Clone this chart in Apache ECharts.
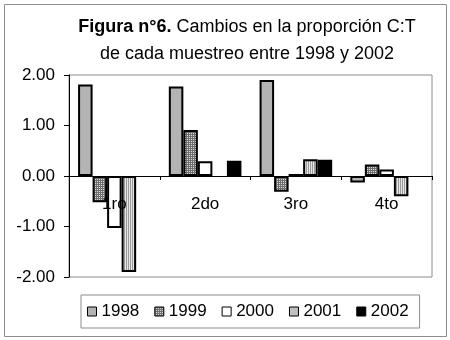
<!DOCTYPE html>
<html>
<head>
<meta charset="utf-8">
<script src="https://cdn.jsdelivr.net/npm/echarts@6/dist/echarts.min.js"></script>
<style>
  html, body { margin: 0; padding: 0; background: #fff; }
  #chart { width: 450px; height: 340px; }
</style>
</head>
<body>
<div id="chart"></div>
<script>
// categorias y valores
const categories = ['1ro', '2do', '3ro', '4to'];
const years = ['1998', '1999', '2000', '2001', '2002'];
const v1998 = [1.81, 1.77, 1.90, -0.13];
const v1999 = [-0.52, 0.91, -0.31, 0.23];
const v2000 = [-1.03, 0.29, 0.04, 0.13];
const v2001 = [-1.90, null, 0.33, -0.40];
const v2002 = [null, 0.30, 0.32, null];
const yTicks = [-2, -1, 0, 1, 2];

// rellenos con trama (como en Excel)
function pattern(w, h, draw) {
  const c = document.createElement('canvas');
  c.width = w; c.height = h;
  draw(c.getContext('2d'));
  return { image: c, repeat: 'repeat' };
}
const fillGrid = pattern(2, 2, ctx => {
  ctx.fillStyle = '#6e6e6e'; ctx.fillRect(0, 0, 2, 2);
  ctx.fillStyle = '#dcdcdc'; ctx.fillRect(1, 1, 1, 1);
});
const fillStripes = pattern(2, 1, ctx => {
  ctx.fillStyle = '#e6e6e6'; ctx.fillRect(0, 0, 2, 1);
  ctx.fillStyle = '#9a9a9a'; ctx.fillRect(0, 0, 1, 1);
});

const fills = ['#b4b4b4', fillGrid, '#ffffff', fillStripes, '#000000'];
const values = [v1998, v1999, v2000, v2001, v2002];

const font = 'Liberation Sans, Arial, sans-serif';
const chart = echarts.init(document.getElementById('chart'));

const option = {
  backgroundColor: '#fff',
  animation: false,
  textStyle: { fontFamily: font, color: '#000' },
  title: [
    {
      text: '{b|Figura n°6.} Cambios en la proporción C:T',
      left: 242, top: 13, textAlign: 'center',
      textStyle: {
        fontFamily: font, fontSize: 18, fontWeight: 'normal', color: '#000',
        rich: { b: { fontFamily: font, fontSize: 18, fontWeight: 'bold', color: '#000' } }
      }
    },
    {
      text: 'de cada muestreo entre 1998 y 2002',
      left: 242, top: 40, textAlign: 'center',
      textStyle: { fontFamily: font, fontSize: 18, fontWeight: 'normal', color: '#000' }
    }
  ],
  graphic: [{
    type: 'rect',
    shape: { x: 4.5, y: 4.5, width: 442, height: 332 },
    style: { fill: 'none', stroke: '#8c8c8c', lineWidth: 1 },
    silent: true
  }],
  grid: {
    left: 69, right: 18, top: 75, bottom: 63,
    show: true, borderColor: '#8c8c8c', borderWidth: 1
  },
  legend: {
    data: years,
    left: 81, top: 295,
    padding: [8, 11, 8, 6],
    borderColor: '#8c8c8c', borderWidth: 1,
    icon: 'rect', itemWidth: 9, itemHeight: 9, itemGap: 15,
    itemStyle: { borderWidth: 1, borderColor: '#000' },
    textStyle: { fontFamily: font, fontSize: 17, color: '#000' }
  },
  xAxis: {
    type: 'category',
    data: categories,
    z: 5,
    axisLine: { onZero: true, lineStyle: { color: '#000', width: 1 } },
    axisTick: { show: true, length: 4, lineStyle: { color: '#000' } },
    // las etiquetas van junto a la linea del cero, como en el original
    axisLabel: { fontFamily: font, fontSize: 17, color: '#000', margin: -81 },
    splitLine: { show: false }
  },
  yAxis: {
    type: 'value',
    min: yTicks[0], max: yTicks[yTicks.length - 1], interval: 1,
    axisLine: { show: true, lineStyle: { color: '#000', width: 1 } },
    axisTick: { show: true, length: 5, lineStyle: { color: '#000' } },
    axisLabel: {
      fontFamily: font, fontSize: 17, color: '#000', margin: 14,
      formatter: v => v.toFixed(2)
    },
    splitLine: { show: false }
  },
  series: years.map((y, i) => ({
    name: y,
    type: 'bar',
    data: values[i],
    barGap: 0,
    barCategoryGap: '20%',
    itemStyle: { color: fills[i], borderColor: '#000', borderWidth: 2 }
  }))
};

chart.setOption(option);
</script>
</body>
</html>
